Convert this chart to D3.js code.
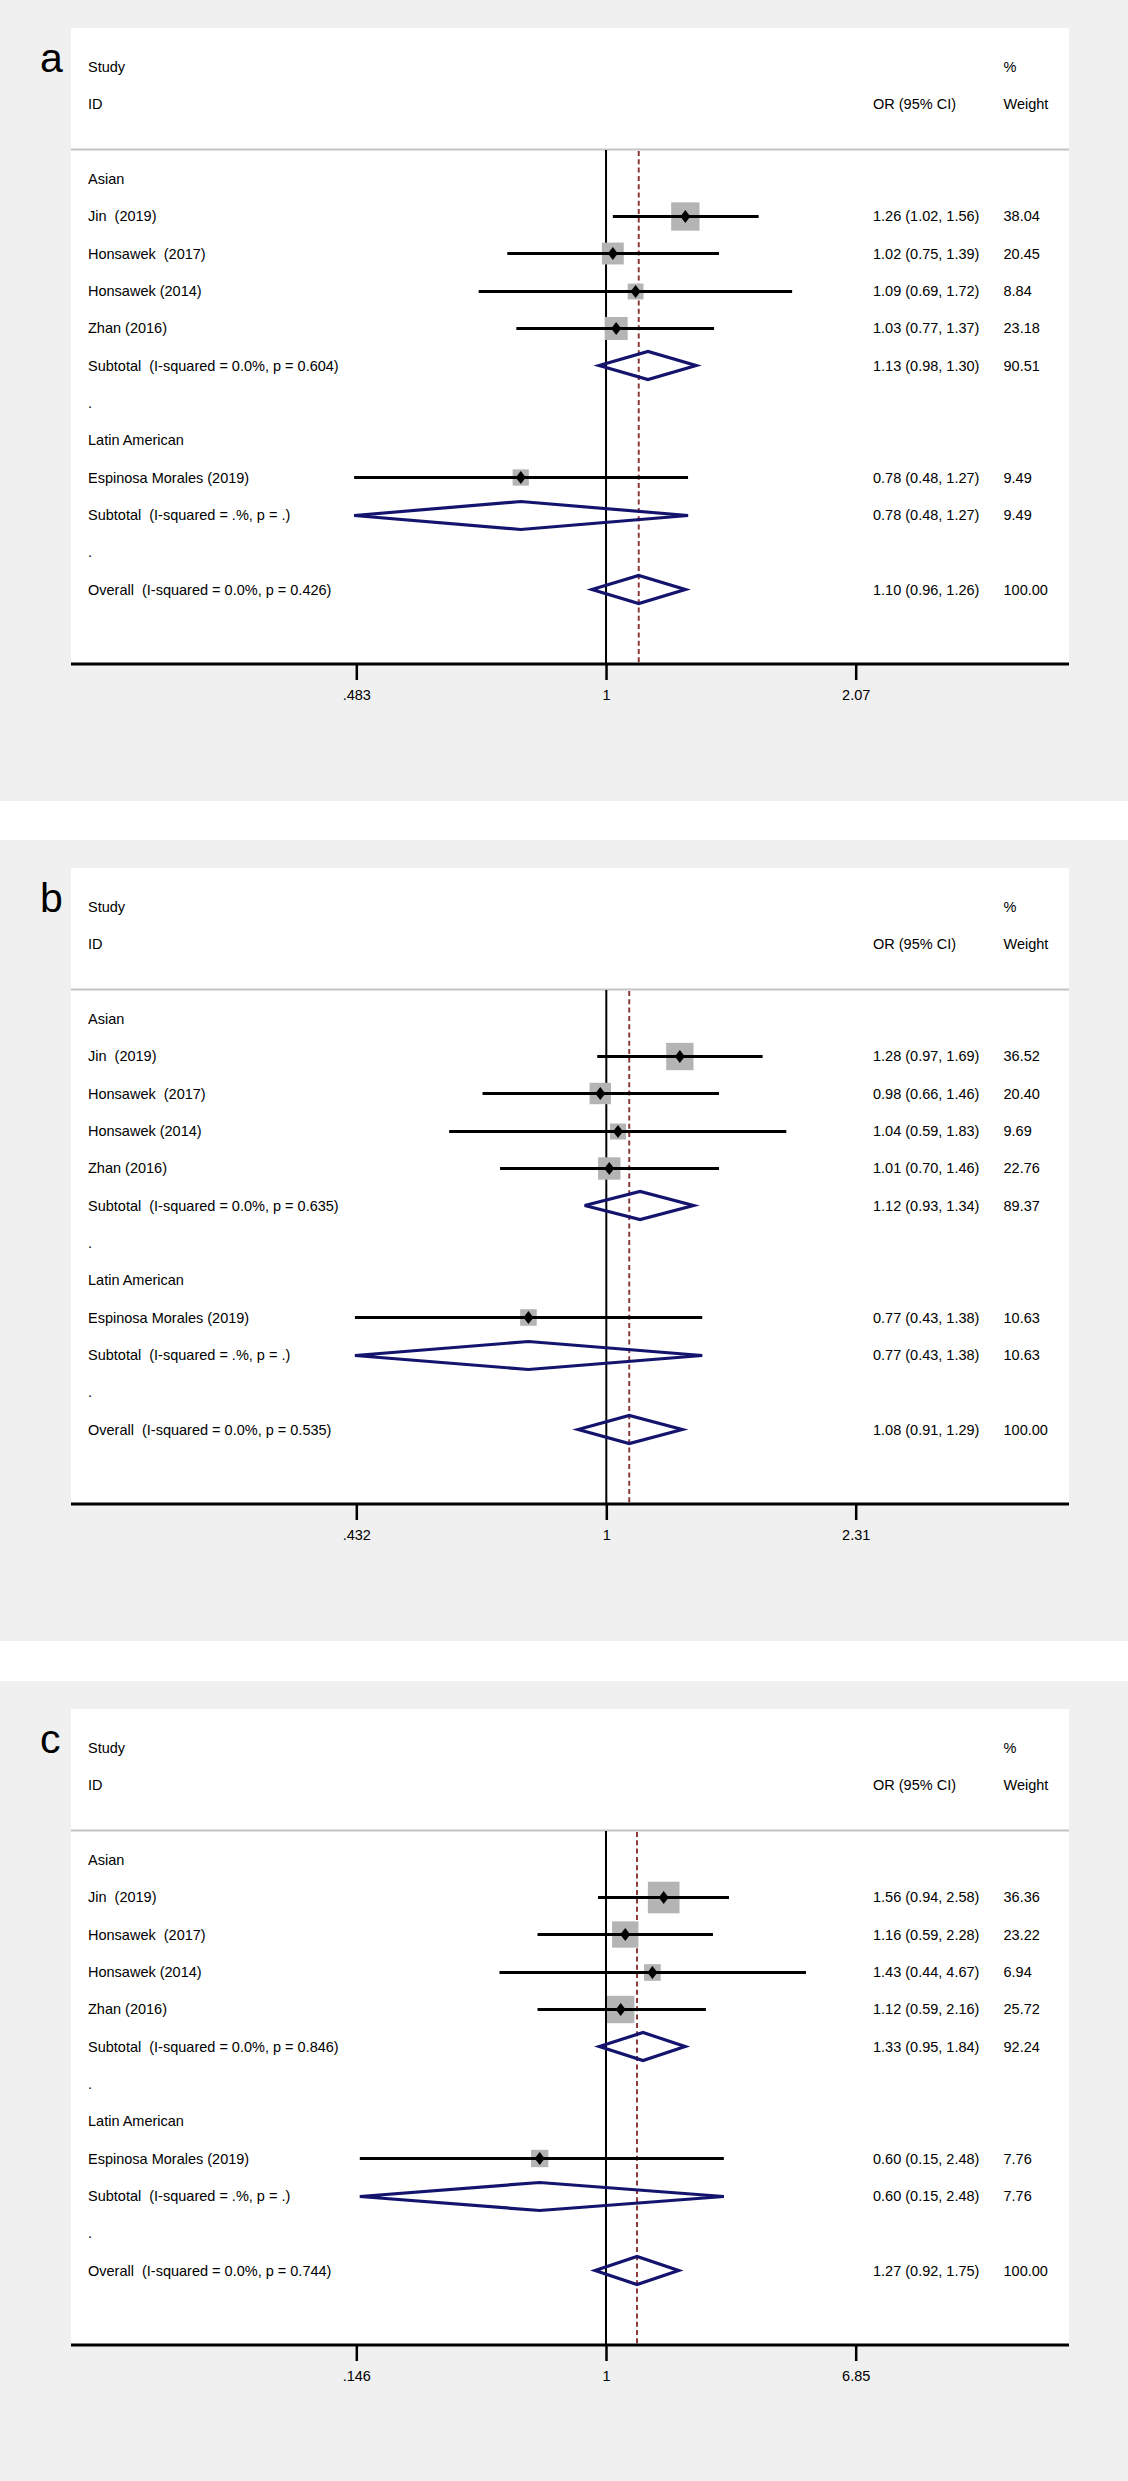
<!DOCTYPE html>
<html><head><meta charset="utf-8">
<script src="https://cdn.jsdelivr.net/npm/d3@7"></script>
<style>
html,body{margin:0;padding:0;background:#fff;}
svg{display:block;}
text{font-family:"Liberation Sans",Arial,Helvetica,sans-serif;}
</style>
</head><body>
<svg id="chart" width="1128" height="2481"></svg>
<script>
// ---------- DATA ----------
const panelLetters = ["a", "b", "c"];
const studyNames = ["Jin  (2019)", "Honsawek  (2017)", "Honsawek (2014)", "Zhan (2016)", "Espinosa Morales (2019)"];
const studyGroups = ["Asian", "Asian", "Asian", "Asian", "Latin American"];
const groupNames = ["Asian", "Latin American"];

// panel a
const orA = [1.26, 1.02, 1.09, 1.03, 0.78];
const lowA = [1.02, 0.75, 0.69, 0.77, 0.48];
const highA = [1.56, 1.39, 1.72, 1.37, 1.27];
const weightA = [38.04, 20.45, 8.84, 23.18, 9.49];
const subOrA = [1.13, 0.78];
const subLowA = [0.98, 0.48];
const subHighA = [1.30, 1.27];
const subWeightA = [90.51, 9.49];
const subI2A = ["0.0%", ".%"];
const subPA = ["0.604", "."];
const overallA = [1.10, 0.96, 1.26];
const overallStatsA = ["0.0%", "0.426"];
const tickValsA = [0.483, 1, 2.07];
const tickLabelsA = [".483", "1", "2.07"];

// panel b
const orB = [1.28, 0.98, 1.04, 1.01, 0.77];
const lowB = [0.97, 0.66, 0.59, 0.70, 0.43];
const highB = [1.69, 1.46, 1.83, 1.46, 1.38];
const weightB = [36.52, 20.40, 9.69, 22.76, 10.63];
const subOrB = [1.12, 0.77];
const subLowB = [0.93, 0.43];
const subHighB = [1.34, 1.38];
const subWeightB = [89.37, 10.63];
const subI2B = ["0.0%", ".%"];
const subPB = ["0.635", "."];
const overallB = [1.08, 0.91, 1.29];
const overallStatsB = ["0.0%", "0.535"];
const tickValsB = [0.432, 1, 2.31];
const tickLabelsB = [".432", "1", "2.31"];

// panel c
const orC = [1.56, 1.16, 1.43, 1.12, 0.60];
const lowC = [0.94, 0.59, 0.44, 0.59, 0.15];
const highC = [2.58, 2.28, 4.67, 2.16, 2.48];
const weightC = [36.36, 23.22, 6.94, 25.72, 7.76];
const subOrC = [1.33, 0.60];
const subLowC = [0.95, 0.15];
const subHighC = [1.84, 2.48];
const subWeightC = [92.24, 7.76];
const subI2C = ["0.0%", ".%"];
const subPC = ["0.846", "."];
const overallC = [1.27, 0.92, 1.75];
const overallStatsC = ["0.0%", "0.744"];
const tickValsC = [0.146, 1, 6.85];
const tickLabelsC = [".146", "1", "6.85"];

// ---------- STYLE / LAYOUT ----------
const panelTops = [0, 840, 1681];
const boxK = [3.91, 3.86, 4.42];
const boxPad = [4.2, 4.0, 5.0];
const FONT = 14.5;
const BG = "#f0f0f0";
const NAVY = "#14146e";
const MAROON = "#8b3a3a";
const BOXGRAY = "#b4b4b4";

const panels = [
  {letter: panelLetters[0], or: orA, low: lowA, high: highA, w: weightA, subOr: subOrA, subLow: subLowA, subHigh: subHighA, subW: subWeightA, subI2: subI2A, subP: subPA, overall: overallA, ostats: overallStatsA, tv: tickValsA, tl: tickLabelsA},
  {letter: panelLetters[1], or: orB, low: lowB, high: highB, w: weightB, subOr: subOrB, subLow: subLowB, subHigh: subHighB, subW: subWeightB, subI2: subI2B, subP: subPB, overall: overallB, ostats: overallStatsB, tv: tickValsB, tl: tickLabelsB},
  {letter: panelLetters[2], or: orC, low: lowC, high: highC, w: weightC, subOr: subOrC, subLow: subLowC, subHigh: subHighC, subW: subWeightC, subI2: subI2C, subP: subPC, overall: overallC, ostats: overallStatsC, tv: tickValsC, tl: tickLabelsC}
];

const svg = d3.select("#chart");
svg.append("rect").attr("x", 0).attr("y", 0).attr("width", 1128).attr("height", 2481).attr("fill", "#fff");

const f2 = d3.format(".2f");
const ciText = (e, l, h) => `${f2(e)} (${f2(l)}, ${f2(h)})`;

panels.forEach((p, pi) => {
  const g = svg.append("g").attr("transform", `translate(0,${panelTops[pi]})`);
  g.append("rect").attr("x", 0).attr("y", 0).attr("width", 1128).attr("height", 801).attr("fill", BG);
  g.append("rect").attr("x", 71).attr("y", 28).attr("width", 998).attr("height", 636).attr("fill", "#fff");

  const x = d3.scaleLog().domain([p.tv[0], p.tv[2]]).range([356.3, 855.7]);
  const yRaw = d3.scaleLinear().domain([0, 11]).range([178.5, 589.4]);
  const y = r => Math.round(yRaw(r)) + 0.5;
  const axisY = 664;
  const topY = 150;

  // build rows
  const rows = [];
  let r = 0;
  groupNames.forEach((gn, gi) => {
    rows.push({type: "group", row: r++, label: gn});
    studyNames.forEach((sn, si) => {
      if (studyGroups[si] !== gn) return;
      rows.push({type: "study", row: r++, label: sn, est: p.or[si], lo: p.low[si], hi: p.high[si], w: p.w[si]});
    });
    rows.push({type: "pooled", row: r++, label: `Subtotal  (I-squared = ${p.subI2[gi]}, p = ${p.subP[gi]})`, est: p.subOr[gi], lo: p.subLow[gi], hi: p.subHigh[gi], w: p.subW[gi]});
    rows.push({type: "dot", row: r++, label: "."});
  });
  rows.push({type: "pooled", row: r++, label: `Overall  (I-squared = ${p.ostats[0]}, p = ${p.ostats[1]})`, est: p.overall[0], lo: p.overall[1], hi: p.overall[2], w: 100});

  // letter
  g.append("text").attr("x", 40).attr("y", 72).attr("font-size", 41).attr("fill", "#000").text(p.letter);

  // header
  const hdr = (tx, ty, t) => g.append("text").attr("x", tx).attr("y", ty).attr("font-size", FONT).attr("fill", "#000").text(t);
  hdr(88, yRaw(-3) + 5.3, "Study");
  hdr(88, yRaw(-2) + 5.3, "ID");
  hdr(873, yRaw(-2) + 5.3, "OR (95% CI)");
  hdr(1003.5, yRaw(-3) + 5.3, "%");
  hdr(1003.5, yRaw(-2) + 5.3, "Weight");

  g.append("line").attr("x1", 71).attr("x2", 1069).attr("y1", 149.5).attr("y2", 149.5)
    .attr("stroke", "#c4c4c4").attr("stroke-width", 2);

  // reference lines
  g.append("line").attr("x1", x(1)).attr("x2", x(1)).attr("y1", topY).attr("y2", axisY)
    .attr("stroke", "#000").attr("stroke-width", 2);
  g.append("line").attr("x1", x(p.overall[0])).attr("x2", x(p.overall[0])).attr("y1", topY + 1).attr("y2", axisY)
    .attr("stroke", MAROON).attr("stroke-width", 2).attr("stroke-dasharray", "5,3.3");

  // labels
  g.selectAll("text.lab").data(rows).join("text").attr("class", "lab")
    .attr("x", 88).attr("y", d => yRaw(d.row) + 5.3)
    .attr("font-size", FONT).attr("fill", "#000")
    .style("white-space", "pre").attr("xml:space", "preserve")
    .text(d => d.label);

  const valRows = rows.filter(d => d.type === "study" || d.type === "pooled");
  g.selectAll("text.ci").data(valRows).join("text").attr("class", "ci")
    .attr("x", 873).attr("y", d => yRaw(d.row) + 5.3).attr("font-size", FONT).attr("fill", "#000")
    .text(d => ciText(d.est, d.lo, d.hi));
  g.selectAll("text.wt").data(valRows).join("text").attr("class", "wt")
    .attr("x", 1003.5).attr("y", d => yRaw(d.row) + 5.3).attr("font-size", FONT).attr("fill", "#000")
    .text(d => f2(d.w));

  // studies
  const studies = rows.filter(d => d.type === "study");
  const side = d => boxK[pi] * Math.sqrt(d.w) + boxPad[pi];
  g.selectAll("rect.box").data(studies).join("rect").attr("class", "box")
    .attr("x", d => x(d.est) - side(d) / 2)
    .attr("y", d => y(d.row) - side(d) / 2)
    .attr("width", side)
    .attr("height", side)
    .attr("fill", BOXGRAY);
  g.selectAll("line.ci").data(studies).join("line").attr("class", "ci")
    .attr("x1", d => x(d.lo)).attr("x2", d => x(d.hi))
    .attr("y1", d => y(d.row)).attr("y2", d => y(d.row))
    .attr("stroke", "#000").attr("stroke-width", 3);
  g.selectAll("path.pt").data(studies).join("path").attr("class", "pt")
    .attr("d", d => {
      const cx = x(d.est), cy = y(d.row);
      return `M${cx - 5},${cy}L${cx},${cy - 6.5}L${cx + 5},${cy}L${cx},${cy + 6.5}Z`;
    })
    .attr("fill", "#000");

  // pooled diamonds
  const pooled = rows.filter(d => d.type === "pooled");
  g.selectAll("path.dia").data(pooled).join("path").attr("class", "dia")
    .attr("d", d => {
      const cy = y(d.row);
      return `M${x(d.lo)},${cy}L${x(d.est)},${cy - 14}L${x(d.hi)},${cy}L${x(d.est)},${cy + 14}Z`;
    })
    .attr("fill", "none").attr("stroke", NAVY).attr("stroke-width", 3.2).attr("stroke-linejoin", "miter");

  // axis
  g.append("line").attr("x1", 71).attr("x2", 1069).attr("y1", axisY).attr("y2", axisY)
    .attr("stroke", "#000").attr("stroke-width", 3);
  const axis = d3.axisBottom(x).tickValues(p.tv).tickFormat((d, i) => p.tl[i]).tickSize(16).tickPadding(9.5);
  const ag = g.append("g").attr("transform", `translate(0,${axisY})`).call(axis);
  ag.select(".domain").remove();
  ag.selectAll(".tick line").attr("stroke", "#000").attr("stroke-width", 2.5);
  ag.selectAll(".tick text").attr("fill", "#000").attr("font-size", FONT)
    .attr("font-family", '"Liberation Sans",Arial,Helvetica,sans-serif');
});
</script>
</body></html>
